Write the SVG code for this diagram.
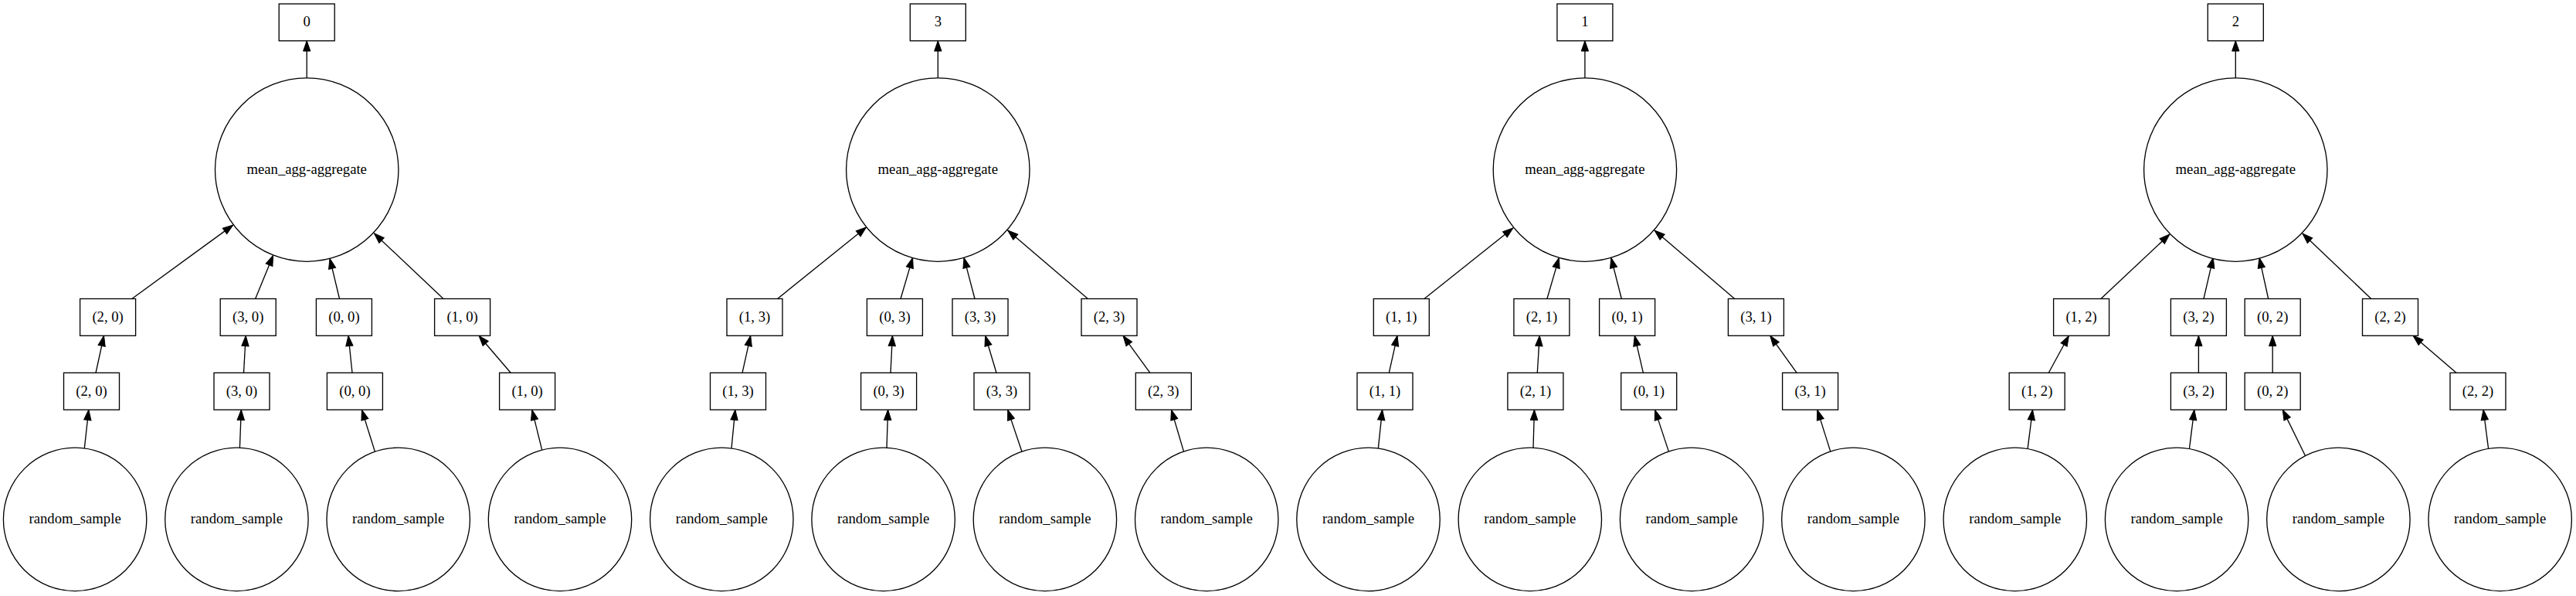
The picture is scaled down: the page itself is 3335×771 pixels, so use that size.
<svg xmlns="http://www.w3.org/2000/svg" width="3335" height="771" viewBox="0 0 3335 771">
<style>
.n rect, .n circle { fill: #fff; stroke: #000; stroke-width: 1.33; }
text { font-family: "Liberation Serif", "Times New Roman", serif; font-size: 18.67px; fill: #000; text-anchor: middle; }
#edges line { stroke: #000; stroke-width: 1.33; marker-end: url(#ah); }
</style>
<defs>
<marker id="ah" markerUnits="userSpaceOnUse" markerWidth="14" markerHeight="10" refX="13.3" refY="4.65" orient="auto" overflow="visible">
<path d="M0,0 L13.3,4.65 L0,9.3 Z" fill="#000" stroke="#000" stroke-width="1"/>
</marker>
</defs>
<rect width="3335" height="771" fill="#fff"/>
<g id="edges">
<!-- cluster 1 -->
<line x1="397.2" y1="100.9" x2="397.2" y2="52.8"/>
<line x1="170.8" y1="386.5" x2="301.7" y2="291.1"/>
<line x1="330.6" y1="386.5" x2="353.6" y2="330.4"/>
<line x1="439.5" y1="386.5" x2="427" y2="334.4"/>
<line x1="574" y1="386.5" x2="484.4" y2="301.9"/>
<line x1="124" y1="482.3" x2="134.5" y2="434.3"/>
<line x1="315.5" y1="482.3" x2="318.2" y2="434.3"/>
<line x1="456" y1="482.3" x2="451" y2="434.3"/>
<line x1="661.2" y1="482.3" x2="620" y2="434.3"/>
<line x1="109.3" y1="580" x2="114.8" y2="530.1"/>
<line x1="310.4" y1="579.3" x2="312.3" y2="530.1"/>
<line x1="485.4" y1="584.3" x2="468.4" y2="530.1"/>
<line x1="701.7" y1="582.2" x2="688.8" y2="530.1"/>
<!-- cluster 2 -->
<line x1="1214.3" y1="100.9" x2="1214.3" y2="52.8"/>
<line x1="1006.6" y1="386.5" x2="1121.5" y2="294"/>
<line x1="1166" y1="386.5" x2="1181.6" y2="333.4"/>
<line x1="1262" y1="386.5" x2="1248" y2="333.4"/>
<line x1="1408.4" y1="386.5" x2="1304.7" y2="298"/>
<line x1="961" y1="482.3" x2="971.7" y2="434.3"/>
<line x1="1153" y1="482.3" x2="1155.4" y2="434.3"/>
<line x1="1290" y1="482.3" x2="1275.6" y2="434.3"/>
<line x1="1488.9" y1="482.3" x2="1454" y2="434.3"/>
<line x1="947" y1="580.1" x2="951.8" y2="530.1"/>
<line x1="1148" y1="579.3" x2="1149.6" y2="530.1"/>
<line x1="1323" y1="584.2" x2="1304.7" y2="530.1"/>
<line x1="1532.5" y1="584.1" x2="1516.5" y2="530.1"/>
<!-- cluster 3 -->
<line x1="2051.9" y1="100.9" x2="2051.9" y2="52.8"/>
<line x1="1843.9" y1="386.5" x2="1958.8" y2="295"/>
<line x1="2002.9" y1="386.5" x2="2018.4" y2="333.4"/>
<line x1="2099.3" y1="386.5" x2="2085.8" y2="333.4"/>
<line x1="2245.7" y1="386.5" x2="2142" y2="298"/>
<line x1="1798.3" y1="482.3" x2="1809" y2="434.3"/>
<line x1="1990.3" y1="482.3" x2="1993.2" y2="434.3"/>
<line x1="2127.4" y1="482.3" x2="2116.3" y2="434.3"/>
<line x1="2326.2" y1="482.3" x2="2291.7" y2="434.3"/>
<line x1="1784.3" y1="580.1" x2="1789.6" y2="530.1"/>
<line x1="1985" y1="579.3" x2="1986.4" y2="530.1"/>
<line x1="2160.4" y1="584.1" x2="2142.5" y2="530.1"/>
<line x1="2369.8" y1="584.1" x2="2352.8" y2="530.1"/>
<!-- cluster 4 -->
<line x1="2894.3" y1="100.9" x2="2894.3" y2="52.8"/>
<line x1="2719.9" y1="386.5" x2="2808.9" y2="303"/>
<line x1="2853" y1="386.5" x2="2865.3" y2="333.4"/>
<line x1="2936.7" y1="386.5" x2="2925" y2="333.4"/>
<line x1="3069.8" y1="386.5" x2="2980.9" y2="302"/>
<line x1="2652.3" y1="482.3" x2="2678.4" y2="434.3"/>
<line x1="2846.4" y1="482.3" x2="2846.4" y2="434.3"/>
<line x1="2942.2" y1="482.3" x2="2942.2" y2="434.3"/>
<line x1="3180" y1="482.3" x2="3124.1" y2="434.3"/>
<line x1="2625.1" y1="580.6" x2="2631.5" y2="530.1"/>
<line x1="2834.4" y1="580.6" x2="2840.8" y2="530.1"/>
<line x1="2984.6" y1="589.7" x2="2955.3" y2="530.1"/>
<line x1="3221.6" y1="580.4" x2="3215.1" y2="530.1"/>
</g>

<!-- cluster 1 nodes -->
<g id="c1-top" class="n"><rect x="361.2" y="5" width="72" height="47.8"/><text x="397.2" y="34.4">0</text></g>
<g id="c1-agg" class="n"><circle cx="397.2" cy="219.6" r="118.7"/><text x="397.2" y="225.1">mean_agg-aggregate</text></g>
<g id="c1-r2a" class="n"><rect x="103.6" y="386.5" width="72" height="47.8"/><text x="139.6" y="415.9">(2, 0)</text></g>
<g id="c1-r2b" class="n"><rect x="285.2" y="386.5" width="72" height="47.8"/><text x="321.2" y="415.9">(3, 0)</text></g>
<g id="c1-r2c" class="n"><rect x="409.4" y="386.5" width="72" height="47.8"/><text x="445.4" y="415.9">(0, 0)</text></g>
<g id="c1-r2d" class="n"><rect x="562.6" y="386.5" width="72" height="47.8"/><text x="598.6" y="415.9">(1, 0)</text></g>
<g id="c1-r3a" class="n"><rect x="82.5" y="482.3" width="72" height="47.8"/><text x="118.5" y="511.7">(2, 0)</text></g>
<g id="c1-r3b" class="n"><rect x="277" y="482.3" width="72" height="47.8"/><text x="313" y="511.7">(3, 0)</text></g>
<g id="c1-r3c" class="n"><rect x="423.4" y="482.3" width="72" height="47.8"/><text x="459.4" y="511.7">(0, 0)</text></g>
<g id="c1-r3d" class="n"><rect x="646.6" y="482.3" width="72" height="47.8"/><text x="682.6" y="511.7">(1, 0)</text></g>
<g id="c1-rs1" class="n"><circle cx="97.1" cy="671.9" r="92.7"/><text x="97.1" y="677.4">random_sample</text></g>
<g id="c1-rs2" class="n"><circle cx="306.4" cy="671.9" r="92.7"/><text x="306.4" y="677.4">random_sample</text></g>
<g id="c1-rs3" class="n"><circle cx="515.7" cy="671.9" r="92.7"/><text x="515.7" y="677.4">random_sample</text></g>
<g id="c1-rs4" class="n"><circle cx="725" cy="671.9" r="92.7"/><text x="725" y="677.4">random_sample</text></g>

<!-- cluster 2 nodes -->
<g id="c2-top" class="n"><rect x="1178.3" y="5" width="72" height="47.8"/><text x="1214.3" y="34.4">3</text></g>
<g id="c2-agg" class="n"><circle cx="1214.3" cy="219.6" r="118.7"/><text x="1214.3" y="225.1">mean_agg-aggregate</text></g>
<g id="c2-r2a" class="n"><rect x="941" y="386.5" width="72" height="47.8"/><text x="977" y="415.9">(1, 3)</text></g>
<g id="c2-r2b" class="n"><rect x="1122.4" y="386.5" width="72" height="47.8"/><text x="1158.4" y="415.9">(0, 3)</text></g>
<g id="c2-r2c" class="n"><rect x="1233" y="386.5" width="72" height="47.8"/><text x="1269" y="415.9">(3, 3)</text></g>
<g id="c2-r2d" class="n"><rect x="1400" y="386.5" width="72" height="47.8"/><text x="1436" y="415.9">(2, 3)</text></g>
<g id="c2-r3a" class="n"><rect x="919.5" y="482.3" width="72" height="47.8"/><text x="955.5" y="511.7">(1, 3)</text></g>
<g id="c2-r3b" class="n"><rect x="1114.6" y="482.3" width="72" height="47.8"/><text x="1150.6" y="511.7">(0, 3)</text></g>
<g id="c2-r3c" class="n"><rect x="1261" y="482.3" width="72" height="47.8"/><text x="1297" y="511.7">(3, 3)</text></g>
<g id="c2-r3d" class="n"><rect x="1470.3" y="482.3" width="72" height="47.8"/><text x="1506.3" y="511.7">(2, 3)</text></g>
<g id="c2-rs1" class="n"><circle cx="934.3" cy="671.9" r="92.7"/><text x="934.3" y="677.4">random_sample</text></g>
<g id="c2-rs2" class="n"><circle cx="1143.6" cy="671.9" r="92.7"/><text x="1143.6" y="677.4">random_sample</text></g>
<g id="c2-rs3" class="n"><circle cx="1352.9" cy="671.9" r="92.7"/><text x="1352.9" y="677.4">random_sample</text></g>
<g id="c2-rs4" class="n"><circle cx="1562.2" cy="671.9" r="92.7"/><text x="1562.2" y="677.4">random_sample</text></g>

<!-- cluster 3 nodes -->
<g id="c3-top" class="n"><rect x="2015.9" y="5" width="72" height="47.8"/><text x="2051.9" y="34.4">1</text></g>
<g id="c3-agg" class="n"><circle cx="2051.9" cy="219.6" r="118.7"/><text x="2051.9" y="225.1">mean_agg-aggregate</text></g>
<g id="c3-r2a" class="n"><rect x="1778.3" y="386.5" width="72" height="47.8"/><text x="1814.3" y="415.9">(1, 1)</text></g>
<g id="c3-r2b" class="n"><rect x="1959.9" y="386.5" width="72" height="47.8"/><text x="1995.9" y="415.9">(2, 1)</text></g>
<g id="c3-r2c" class="n"><rect x="2070.6" y="386.5" width="72" height="47.8"/><text x="2106.6" y="415.9">(0, 1)</text></g>
<g id="c3-r2d" class="n"><rect x="2237.4" y="386.5" width="72" height="47.8"/><text x="2273.4" y="415.9">(3, 1)</text></g>
<g id="c3-r3a" class="n"><rect x="1757" y="482.3" width="72" height="47.8"/><text x="1793" y="511.7">(1, 1)</text></g>
<g id="c3-r3b" class="n"><rect x="1951.9" y="482.3" width="72" height="47.8"/><text x="1987.9" y="511.7">(2, 1)</text></g>
<g id="c3-r3c" class="n"><rect x="2098.7" y="482.3" width="72" height="47.8"/><text x="2134.7" y="511.7">(0, 1)</text></g>
<g id="c3-r3d" class="n"><rect x="2307.6" y="482.3" width="72" height="47.8"/><text x="2343.6" y="511.7">(3, 1)</text></g>
<g id="c3-rs1" class="n"><circle cx="1771.5" cy="671.9" r="92.7"/><text x="1771.5" y="677.4">random_sample</text></g>
<g id="c3-rs2" class="n"><circle cx="1980.8" cy="671.9" r="92.7"/><text x="1980.8" y="677.4">random_sample</text></g>
<g id="c3-rs3" class="n"><circle cx="2190.1" cy="671.9" r="92.7"/><text x="2190.1" y="677.4">random_sample</text></g>
<g id="c3-rs4" class="n"><circle cx="2399.4" cy="671.9" r="92.7"/><text x="2399.4" y="677.4">random_sample</text></g>

<!-- cluster 4 nodes -->
<g id="c4-top" class="n"><rect x="2858.3" y="5" width="72" height="47.8"/><text x="2894.3" y="34.4">2</text></g>
<g id="c4-agg" class="n"><circle cx="2894.3" cy="219.6" r="118.7"/><text x="2894.3" y="225.1">mean_agg-aggregate</text></g>
<g id="c4-r2a" class="n"><rect x="2658.6" y="386.5" width="72" height="47.8"/><text x="2694.6" y="415.9">(1, 2)</text></g>
<g id="c4-r2b" class="n"><rect x="2810.4" y="386.5" width="72" height="47.8"/><text x="2846.4" y="415.9">(3, 2)</text></g>
<g id="c4-r2c" class="n"><rect x="2906.2" y="386.5" width="72" height="47.8"/><text x="2942.2" y="415.9">(0, 2)</text></g>
<g id="c4-r2d" class="n"><rect x="3058.5" y="386.5" width="72" height="47.8"/><text x="3094.5" y="415.9">(2, 2)</text></g>
<g id="c4-r3a" class="n"><rect x="2601.2" y="482.3" width="72" height="47.8"/><text x="2637.2" y="511.7">(1, 2)</text></g>
<g id="c4-r3b" class="n"><rect x="2810.4" y="482.3" width="72" height="47.8"/><text x="2846.4" y="511.7">(3, 2)</text></g>
<g id="c4-r3c" class="n"><rect x="2906.2" y="482.3" width="72" height="47.8"/><text x="2942.2" y="511.7">(0, 2)</text></g>
<g id="c4-r3d" class="n"><rect x="3172" y="482.3" width="72" height="47.8"/><text x="3208" y="511.7">(2, 2)</text></g>
<g id="c4-rs1" class="n"><circle cx="2608.8" cy="671.9" r="92.7"/><text x="2608.8" y="677.4">random_sample</text></g>
<g id="c4-rs2" class="n"><circle cx="2818.1" cy="671.9" r="92.7"/><text x="2818.1" y="677.4">random_sample</text></g>
<g id="c4-rs3" class="n"><circle cx="3027.4" cy="671.9" r="92.7"/><text x="3027.4" y="677.4">random_sample</text></g>
<g id="c4-rs4" class="n"><circle cx="3236.7" cy="671.9" r="92.7"/><text x="3236.7" y="677.4">random_sample</text></g>
</svg>
